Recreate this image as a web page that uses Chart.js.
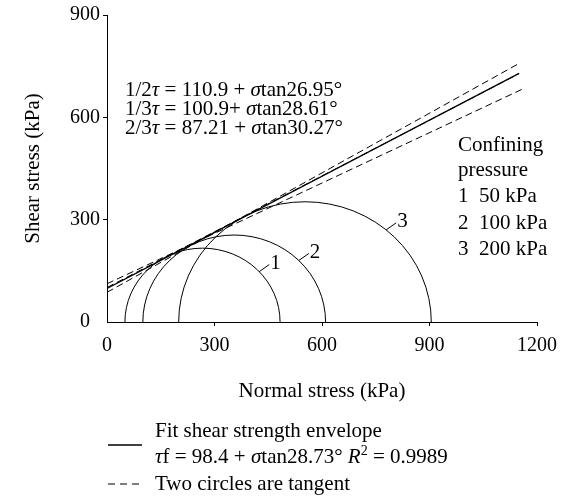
<!DOCTYPE html>
<html><head><meta charset="utf-8">
<script src="https://cdn.jsdelivr.net/npm/chart.js@4/dist/chart.umd.min.js"></script>
<style>html,body{margin:0;padding:0;background:#fff}#wrap{width:569px;height:500px;position:relative}</style>
</head><body><div id="wrap"><canvas id="c" width="569" height="500"></canvas></div>
<script>
// ---- data ----
const xTicks = [0, 300, 600, 900, 1200];
const yTicks = [0, 300, 600, 900];
const confiningKPa = [50, 100, 200];
const sigma3 = [50, 100, 200];      // minor principal stress of each Mohr circle (kPa)
const sigma1 = [483, 610, 905];     // major principal stress of each Mohr circle (kPa)
const circleLabels = ['1', '2', '3'];
const fitEnvelope = [{x: 0, y: 98.4}, {x: 1150, y: 729}];
const tangent12 = [{x: 0, y: 112}, {x: 1160, y: 683}];
const tangent13 = [{x: 0, y: 101}, {x: 1150, y: 728}];
const tangent23 = [{x: 0, y: 87}, {x: 1150, y: 758}];
const equations = [
  [['1/2'], ['τ', 1], [' = 110.9 + '], ['σ', 1], ['tan26.95°']],
  [['1/3'], ['τ', 1], [' = 100.9+ '], ['σ', 1], ['tan28.61°']],
  [['2/3'], ['τ', 1], [' = 87.21 + '], ['σ', 1], ['tan30.27°']]
];
const fitEquation = [['τ', 1], ['f = 98.4 + '], ['σ', 1], ['tan28.73° '], ['R', 1], ['2', 0, 1], [' = 0.9989']];

const FONT = '"Liberation Serif", "Times New Roman", serif';

function rich(ctx, parts, x, y, size) {
  let cx = x;
  ctx.textAlign = 'left';
  ctx.textBaseline = 'alphabetic';
  parts.forEach(p => {
    let yy = y;
    if (p[2]) { ctx.font = Math.round(size * 0.65) + 'px ' + FONT; yy = y - size * 0.4; }
    else ctx.font = (p[1] ? 'italic ' : '') + size + 'px ' + FONT;
    ctx.fillText(p[0], cx, yy);
    cx += ctx.measureText(p[0]).width;
  });
}

const mohrPlugin = {
  id: 'mohr',
  afterDatasetsDraw(chart) {
    const {ctx, scales: {x, y}} = chart;
    const angles = [43, 45, 50];
    ctx.save();
    ctx.strokeStyle = '#000';
    ctx.fillStyle = '#000';
    ctx.lineWidth = 1;
    sigma3.forEach((s3, i) => {
      const s1 = sigma1[i];
      const c = (s1 + s3) / 2, r = (s1 - s3) / 2;
      const cx = x.getPixelForValue(c), cy = y.getPixelForValue(0);
      const rx = x.getPixelForValue(c + r) - cx;
      const ry = cy - y.getPixelForValue(r);
      ctx.beginPath();
      ctx.ellipse(cx, cy, rx, ry, 0, Math.PI, 2 * Math.PI);
      ctx.stroke();
      const a = angles[i] * Math.PI / 180;
      const px = x.getPixelForValue(c + r * Math.cos(a));
      const py = y.getPixelForValue(r * Math.sin(a));
      ctx.beginPath();
      ctx.moveTo(px, py);
      ctx.lineTo(px + 10, py - 7);
      ctx.stroke();
      ctx.font = '21px ' + FONT;
      ctx.textAlign = 'left';
      ctx.textBaseline = 'middle';
      ctx.fillText(circleLabels[i], px + 11, py - 8);
    });
    ctx.restore();
  }
};

const textPlugin = {
  id: 'texts',
  afterDraw(chart) {
    const {ctx, chartArea} = chart;
    ctx.save();
    ctx.fillStyle = '#000';
    ctx.strokeStyle = '#000';
    // equations
    const eqBase = [96, 115, 134];
    equations.forEach((eq, i) => rich(ctx, eq, 125, eqBase[i], 21));
    // confining pressure block
    ctx.font = '21px ' + FONT;
    ctx.textAlign = 'left';
    ctx.textBaseline = 'alphabetic';
    ctx.fillText('Confining', 458, 151);
    ctx.fillText('pressure', 458, 176);
    const cpBase = [202, 228.5, 255];
    confiningKPa.forEach((v, i) => {
      ctx.fillText(circleLabels[i], 458, cpBase[i]);
      ctx.fillText(v + ' kPa', 479, cpBase[i]);
    });
    // axis titles
    ctx.textAlign = 'center';
    ctx.fillText('Normal stress (kPa)', (chartArea.left + chartArea.right) / 2, 397);
    ctx.save();
    ctx.translate(33, (chartArea.top + chartArea.bottom) / 2);
    ctx.rotate(-Math.PI / 2);
    ctx.textBaseline = 'middle';
    ctx.fillText('Shear stress (kPa)', 0, 0);
    ctx.restore();
    // legend
    ctx.lineWidth = 1.3;
    ctx.beginPath(); ctx.moveTo(108, 445); ctx.lineTo(142, 445); ctx.stroke();
    ctx.lineWidth = 1;
    ctx.setLineDash([7, 5]);
    ctx.beginPath(); ctx.moveTo(108, 484); ctx.lineTo(142, 484); ctx.stroke();
    ctx.setLineDash([]);
    rich(ctx, [['Fit shear strength envelope']], 155, 437, 21);
    rich(ctx, fitEquation, 155, 463, 21);
    rich(ctx, [['Two circles are tangent']], 155, 490, 21);
    ctx.restore();
  }
};

const lineDs = (data, dash, w) => ({
  data, showLine: true, fill: false, borderColor: '#000', backgroundColor: '#000',
  borderWidth: w, borderDash: dash, pointRadius: 0, pointHoverRadius: 0, tension: 0
});

const axisCommon = (ticks) => ({
  type: 'linear',
  min: ticks[0], max: ticks[ticks.length - 1],
  afterBuildTicks: s => { s.ticks = ticks.map(v => ({value: v})); },
  grid: {
    drawOnChartArea: false, drawTicks: true, tickLength: 4, lineWidth: 1,
    tickColor: c => (c.tick && c.tick.value === 0) ? 'rgba(0,0,0,0)' : '#000'
  },
  border: {display: true, color: '#000', width: 1},
  ticks: {color: '#000', font: {family: FONT, size: 20}, autoSkip: false, maxRotation: 0,
    callback: v => String(v)}
});

const xAxis = axisCommon(xTicks);
xAxis.ticks.padding = 8;
xAxis.afterFit = s => { s.height = 178; };
const yAxis = axisCommon(yTicks);
yAxis.ticks.padding = 3;
yAxis.ticks.callback = v => v === 0 ? '0\u2002' : String(v);
yAxis.afterFit = s => { s.width = 107; };

new Chart(document.getElementById('c'), {
  type: 'scatter',
  data: {
    datasets: [
      lineDs(fitEnvelope, [], 1.3),
      lineDs(tangent12, [7, 4], 1),
      lineDs(tangent13, [7, 4], 1),
      lineDs(tangent23, [7, 4], 1)
    ]
  },
  options: {
    responsive: false,
    animation: false,
    devicePixelRatio: 1,
    layout: {padding: {top: 14, right: 32, left: 0, bottom: 0}},
    plugins: {legend: {display: false}, tooltip: {enabled: false}},
    scales: {x: xAxis, y: yAxis}
  },
  plugins: [mohrPlugin, textPlugin]
});
</script>
</body></html>
